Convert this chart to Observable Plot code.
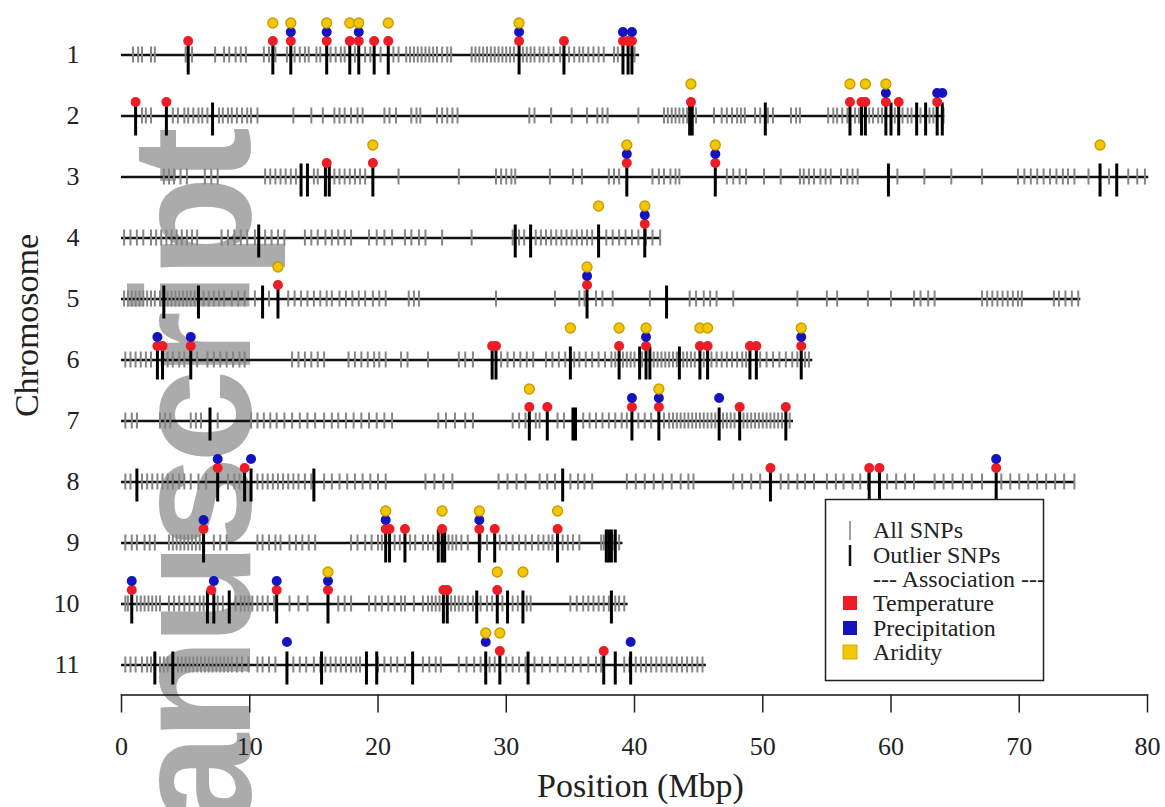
<!DOCTYPE html>
<html><head><meta charset="utf-8">
<script src="https://cdn.jsdelivr.net/npm/d3@7"></script>
<script src="https://cdn.jsdelivr.net/npm/@observablehq/plot@0.6"></script>
<style>
body{margin:0;background:#fff;}
#chart{width:1165px;height:807px;}
</style></head><body><div id="chart"></div>
<script>
const chromosomes = [1,2,3,4,5,6,7,8,9,10,11];
const chromStart = [0,0,0,0,0,0,0,0,0,0,0];
const chromEnd = [40.4, 64.2, 80.1, 42.0, 74.8, 53.9, 52.4, 74.3, 39.1, 39.5, 45.6];
const xTicks = [0,10,20,30,40,50,60,70,80];

// All SNP positions (Mbp) per chromosome
const snps1 = [0.9,1.3,1.6,2.3,2.6,5.0,5.5,7.3,8.0,8.4,8.9,9.3,9.7,11.1,11.5,12.0,12.9,13.5,13.9,14.3,14.6,15.2,15.5,16.3,16.7,17.1,17.4,18.2,19.0,19.4,20.2,21.2,21.6,22.2,22.5,22.8,23.1,23.4,23.7,24.0,24.3,24.6,25.0,25.4,25.7,27.3,27.6,27.9,28.2,28.5,28.8,29.1,29.4,29.7,30.0,30.3,30.6,31.3,31.6,31.9,32.2,32.6,32.9,33.3,33.7,34.2,34.9,35.3,35.7,36.0,36.4,36.8,37.2,37.6,38.4,38.7,40.0];
const snps2 = [1.6,1.9,2.3,4.0,4.4,4.9,5.2,5.6,6.0,6.3,6.7,7.6,7.9,8.3,8.6,9.0,9.4,9.8,10.1,10.6,13.4,14.8,15.7,16.6,17.0,17.4,17.9,18.4,18.8,20.5,20.9,21.4,22.6,23.0,23.3,24.6,25.0,25.4,25.8,26.2,31.8,32.2,33.5,35.1,36.3,37.1,37.5,37.9,40.3,42.3,42.6,42.9,43.2,43.5,43.8,44.1,44.8,46.2,46.8,47.2,47.6,48.0,48.3,48.6,49.4,49.8,50.4,50.8,52.2,52.6,52.9,55.1,55.5,55.8,56.2,56.6,57.2,57.5,58.3,58.6,59.0,59.3,60.3,60.9,61.3,61.6,62.3,63.0,63.3,64.1];
const snps3 = [3.3,3.7,4.1,4.6,5.1,6.5,7.0,7.5,11.2,11.6,12.0,12.4,12.8,13.2,13.6,15.0,15.3,16.6,17.0,17.4,17.8,18.2,18.6,19.0,21.6,26.3,29.2,29.6,30.0,30.4,30.7,33.4,35.2,35.9,38.0,38.4,38.8,41.4,41.9,42.3,42.8,43.2,43.5,47.2,47.7,48.2,48.7,50.1,51.4,52.9,53.2,53.6,54.0,54.5,54.9,55.3,56.1,56.6,57.0,57.4,60.5,62.6,64.7,67.1,69.9,70.4,70.9,71.4,71.9,72.4,72.9,73.4,73.8,74.3,75.4,77.0,78.5,79.2,79.8];
const snps4 = [0.2,0.7,1.2,1.7,2.3,2.7,3.1,3.5,3.9,4.3,4.7,5.1,5.5,5.9,7.8,8.3,8.8,9.3,9.8,10.4,11.2,11.7,12.2,12.7,14.3,14.8,15.3,15.9,16.4,16.9,17.4,17.9,19.3,19.9,20.5,21.1,22.1,22.6,23.2,23.7,25.0,27.3,30.5,31.0,31.4,32.3,32.7,33.1,33.5,33.9,34.3,34.7,35.1,35.5,35.9,36.3,36.7,37.8,38.3,38.8,39.3,39.8,40.3,40.9,41.4,42.0];
const snps5 = [0.2,0.5,0.8,1.1,1.4,1.7,2.0,2.3,2.6,3.0,3.6,3.9,4.2,4.5,4.8,5.1,5.4,5.7,6.4,6.8,7.2,7.6,8.0,8.6,9.1,9.6,10.4,11.5,13.0,13.5,14.0,14.5,15.0,15.5,16.0,16.4,17.0,17.5,18.0,18.5,19.0,19.6,20.1,20.6,22.4,22.8,23.2,29.2,33.8,35.7,36.1,37.0,37.5,38.3,41.2,44.3,44.8,45.4,45.9,46.4,47.7,52.7,55.0,55.8,58.2,60.0,61.8,62.3,62.9,63.4,67.1,67.5,67.9,68.3,68.7,69.1,69.5,69.9,70.2,72.7,73.1,73.6,74.1,74.6];
const snps6 = [0.3,0.7,1.1,1.5,1.9,2.3,3.6,4.0,4.5,4.9,5.9,6.7,7.2,7.7,8.2,8.7,9.2,9.6,13.3,13.8,14.3,14.8,15.3,15.8,17.7,18.2,18.7,19.2,19.7,20.1,20.6,21.8,22.3,23.9,26.3,26.8,27.4,29.6,30.1,30.6,31.1,31.6,32.1,33.1,33.6,34.1,34.6,35.3,35.7,36.2,36.7,37.2,37.7,38.2,38.5,39.1,39.4,39.7,40.0,40.6,41.5,41.8,42.1,42.4,42.7,43.0,43.3,43.8,44.1,44.4,44.7,45.4,46.0,46.4,46.8,47.2,47.6,48.0,48.4,48.7,49.8,50.3,50.8,51.3,51.8,52.3,52.7,53.3,53.6];
const snps7 = [0.3,0.8,1.2,3.0,3.4,3.8,5.4,5.8,6.2,7.5,10.1,10.6,11.1,11.6,12.1,12.7,13.3,13.9,14.5,15.1,15.8,16.4,16.9,17.5,18.1,18.7,19.3,19.9,20.5,21.1,24.7,25.3,26.0,26.8,27.4,30.5,31.0,31.5,32.3,32.6,34.0,34.5,36.0,36.5,37.0,37.5,38.0,38.5,39.0,39.4,40.3,40.8,41.3,42.3,42.7,43.0,43.3,43.6,43.9,44.2,44.5,44.8,45.1,45.4,45.7,46.0,46.3,46.9,47.2,47.5,47.8,48.5,48.8,49.1,49.4,49.7,50.0,50.3,50.6,50.9,51.2,51.5,52.1];
const snps8 = [0.3,0.7,1.6,2.0,2.4,2.8,3.2,3.6,4.0,4.5,4.9,5.4,6.0,6.6,8.3,8.8,9.2,10.6,11.0,11.4,11.8,12.2,12.6,13.0,13.4,13.8,14.3,14.8,15.8,16.4,17.0,17.6,18.2,18.8,19.4,20.0,20.6,23.7,24.4,25.1,25.8,29.4,30.1,30.8,31.5,32.6,33.2,33.8,35.0,35.6,36.1,36.7,39.4,40.1,40.8,41.5,42.2,42.9,43.6,44.2,44.6,47.7,48.4,49.1,49.8,51.4,52.0,52.7,53.3,54.0,55.0,55.7,56.3,57.0,57.6,58.2,59.7,60.4,61.1,61.8,63.4,64.1,64.8,65.6,66.3,67.1,68.6,69.3,70.0,70.7,71.4,72.1,72.8,73.5,74.3];
const snps9 = [0.3,0.8,1.2,1.8,2.2,2.6,3.7,4.0,4.3,4.6,4.9,5.2,5.5,5.8,6.1,7.2,7.7,8.2,10.6,11.0,11.5,12.0,12.4,13.1,13.6,14.1,14.6,15.1,17.9,18.4,19.0,19.5,20.0,20.3,21.3,21.7,22.5,22.9,23.5,23.9,24.3,25.5,25.8,26.1,26.5,27.0,28.0,28.5,29.5,30.0,30.5,31.0,31.5,32.0,32.5,32.9,33.3,33.6,34.4,34.8,35.2,35.7,37.4,37.6,38.1,38.3,38.8];
const snps10 = [0.3,0.5,1.2,1.5,1.8,2.1,2.4,2.7,3.0,3.7,4.1,4.5,4.9,5.3,5.7,6.1,6.4,7.5,7.9,8.9,9.3,9.6,9.9,10.2,10.6,11.0,11.4,11.9,13.1,13.8,14.5,16.9,17.4,17.9,19.3,19.8,20.3,20.8,21.3,21.8,22.1,22.8,23.5,23.9,24.2,24.5,24.8,25.7,26.0,26.3,26.6,27.0,27.4,28.0,28.5,28.9,29.7,30.5,30.9,31.6,31.9,35.0,35.5,36.0,36.4,36.8,37.2,37.6,38.0,38.5,38.8,39.2];
const snps11 = [0.3,0.7,1.1,1.6,2.0,2.3,3.0,3.3,3.6,4.4,4.7,5.0,5.3,5.6,5.9,6.2,6.5,6.8,7.1,7.4,7.7,8.0,8.3,8.6,9.0,9.4,9.9,10.6,11.0,11.5,12.0,13.4,13.9,14.4,15.0,15.5,15.9,16.3,16.7,17.1,17.5,17.9,18.3,18.6,20.0,20.5,21.0,21.5,22.1,23.5,24.0,24.5,24.9,26.3,26.9,27.5,28.0,28.7,29.1,30.0,30.5,31.0,31.5,32.2,32.8,33.4,34.0,34.6,35.2,35.8,36.4,37.0,37.4,39.2,39.6,40.1,40.5,40.9,41.3,41.7,42.1,42.5,42.9,43.3,43.7,44.1,44.5,44.9,45.3];

// Outlier SNP positions (Mbp) per chromosome
const outliers1 = [5.2,11.8,13.2,16.0,17.8,18.5,19.7,20.8,31.0,34.5,39.1,39.5,39.8];
const outliers2 = [1.1,3.5,7.1,44.3,44.5,50.2,56.8,57.7,58.0,59.6,60.0,60.6,62.0,62.7,63.6,64.0];
const outliers3 = [14.0,14.5,15.9,16.2,19.6,39.4,46.3,59.8,76.3,77.6];
const outliers4 = [10.7,30.7,31.9,37.2,40.8];
const outliers5 = [3.3,6.0,11.0,12.2,36.3,42.5];
const outliers6 = [2.8,3.2,5.4,28.9,29.2,35.0,38.8,40.4,40.9,41.2,43.5,45.1,45.7,49.0,49.5,53.0];
const outliers7 = [6.9,31.8,33.2,35.2,35.4,39.8,41.9,46.6,48.2,51.8];
const outliers8 = [1.2,7.5,9.6,10.1,15.0,34.4,50.6,58.3,59.1,68.2];
const outliers9 = [6.4,20.6,20.9,22.1,24.7,25.0,25.2,27.9,29.1,34.0,37.8,38.0,38.2,38.5];
const outliers10 = [0.8,6.7,7.2,8.4,12.1,16.1,25.1,25.4,27.7,29.3,30.1,31.3,38.2];
const outliers11 = [2.6,4.0,12.9,15.6,19.1,19.9,22.7,28.4,29.5,31.7,37.6,38.5,39.7];

// Associations: [chromosome, position]
const temperature = [
  [1,5.2],[1,11.8],[1,13.2],[1,16.0],[1,17.8],[1,18.5],[1,19.7],[1,20.8],[1,31.0],[1,34.5],[1,39.1],[1,39.5],[1,39.8],
  [2,1.1],[2,3.5],[2,44.4],[2,56.8],[2,57.7],[2,58.0],[2,59.6],[2,60.6],[2,63.6],
  [3,16.0],[3,19.6],[3,39.4],[3,46.3],
  [4,40.8],
  [5,12.2],[5,36.3],
  [6,2.8],[6,3.2],[6,5.4],[6,28.9],[6,29.2],[6,38.8],[6,40.9],[6,45.1],[6,45.7],[6,49.0],[6,49.5],[6,53.0],
  [7,31.8],[7,33.2],[7,39.8],[7,41.9],[7,48.2],[7,51.8],
  [8,7.5],[8,9.6],[8,50.6],[8,58.3],[8,59.1],[8,68.2],
  [9,6.4],[9,20.6],[9,20.9],[9,22.1],[9,25.0],[9,27.9],[9,29.1],[9,34.0],
  [10,0.8],[10,7.0],[10,12.1],[10,16.1],[10,25.1],[10,25.4],[10,29.3],
  [11,29.5],[11,37.6]
];
const precipitation = [
  [1,13.2],[1,16.0],[1,18.5],[1,31.0],[1,39.1],[1,39.8],
  [2,59.6],[2,63.6],[2,64.0],
  [3,39.4],[3,46.3],
  [4,40.8],
  [5,36.3],
  [6,2.8],[6,5.4],[6,40.9],[6,53.0],
  [7,39.8],[7,41.9],[7,46.6],
  [8,7.5],[8,10.1],[8,68.2],
  [9,6.4],[9,20.6],[9,27.9],
  [10,0.8],[10,7.2],[10,12.1],[10,16.1],
  [11,12.9],[11,28.4],[11,39.7]
];
const aridity = [
  [1,11.8],[1,13.2],[1,16.0],[1,17.8],[1,18.5],[1,20.8],[1,31.0],
  [2,44.4],[2,56.8],[2,58.0],[2,59.6],
  [3,19.6],[3,39.4],[3,46.3],[3,76.3],
  [4,37.2],[4,40.8],
  [5,12.2],[5,36.3],
  [6,35.0],[6,38.8],[6,40.9],[6,45.1],[6,45.7],[6,53.0],
  [7,31.8],[7,41.9],
  [9,20.6],[9,25.0],[9,27.9],[9,34.0],
  [10,16.1],[10,29.3],[10,31.3],
  [11,28.4],[11,29.5]
];

const legendLabels = ["All SNPs","Outlier SNPs","--- Association ---","Temperature","Precipitation","Aridity"];
const assocColors = {Temperature:"#ee1c25", Precipitation:"#1414bf", Aridity:"#f2c600"};
const watermarkText = "Manuscript";

// Build tables for the library
const allSnps = [snps1,snps2,snps3,snps4,snps5,snps6,snps7,snps8,snps9,snps10,snps11];
const allOutliers = [outliers1,outliers2,outliers3,outliers4,outliers5,outliers6,outliers7,outliers8,outliers9,outliers10,outliers11];
const snpRows = allSnps.flatMap((arr,i)=>arr.map(p=>({chr:chromosomes[i], pos:p})));
const outlierRows = allOutliers.flatMap((arr,i)=>arr.map(p=>({chr:chromosomes[i], pos:p})));
const chromRows = chromosomes.map((c,i)=>({chr:c, start:chromStart[i], end:chromEnd[i]}));
const toRows = arr => arr.map(([c,p])=>({chr:c, pos:p}));

const SERIF = "'Liberation Serif','Times New Roman',serif";
const bandHalf = 30.5;

function watermark() {
  const g = d3.create("svg:g");
  g.append("text")
    .attr("transform", "translate(250,134) rotate(-90)")
    .attr("text-anchor", "end")
    .attr("font-family", "'Liberation Sans',Arial,sans-serif")
    .attr("font-weight", "bold")
    .attr("font-size", 168)
    .attr("letter-spacing", -7)
    .attr("fill", "#ababab")
    .text(watermarkText);
  return g.node();
}

function legend() {
  const g = d3.create("svg:g").attr("font-family", SERIF).attr("font-size", 24)
    .attr("fill", "#222").attr("text-anchor", "start");
  g.append("rect").attr("x",825.5).attr("y",499.5).attr("width",218).attr("height",181)
    .attr("fill","white").attr("stroke","#222").attr("stroke-width",1.5);
  const ys = [530,555,579,603,628,652];
  g.append("line").attr("x1",850).attr("x2",850).attr("y1",521).attr("y2",540).attr("stroke","#808080").attr("stroke-width",1.5);
  g.append("line").attr("x1",850).attr("x2",850).attr("y1",545).attr("y2",566).attr("stroke","#111").attr("stroke-width",2.5);
  const sq = [assocColors.Temperature, assocColors.Precipitation, assocColors.Aridity];
  sq.forEach((c,i)=>{
    g.append("rect").attr("x",843).attr("y",ys[i+3]-7).attr("width",14).attr("height",14).attr("fill",c)
      .attr("stroke", i===2 ? "#d8b000" : "none");
  });
  legendLabels.forEach((t,i)=>{
    g.append("text").attr("x",873).attr("y",ys[i]).attr("dy","0.35em").text(t);
  });
  return g.node();
}

const chart = Plot.plot({
  width: 1165,
  height: 807,
  marginLeft: 121,
  marginRight: 18,
  marginTop: 23.5,
  marginBottom: 112.5,
  style: {fontFamily: SERIF, color: "#222", background: "white"},
  x: {domain: [0, 80]},
  y: {type: "band", domain: chromosomes, padding: 0, range: [23.5, 694.5]},
  marks: [
    watermark,
    Plot.ruleY(chromRows, {y: "chr", x1: "start", x2: "end", stroke: "#111", strokeWidth: 2.5}),
    Plot.tickX(snpRows, {x: "pos", y: "chr", stroke: "#858585", strokeWidth: 2,
      insetTop: bandHalf - 8, insetBottom: bandHalf - 8}),
    Plot.tickX(outlierRows, {x: "pos", y: "chr", stroke: "#000", strokeWidth: 3,
      insetTop: bandHalf - 13, insetBottom: bandHalf - 20}),
    Plot.dot(toRows(temperature), {x: "pos", y: "chr", r: 5, fill: assocColors.Temperature, dy: -14}),
    Plot.dot(toRows(precipitation), {x: "pos", y: "chr", r: 5, fill: assocColors.Precipitation, dy: -23}),
    Plot.dot(toRows(aridity), {x: "pos", y: "chr", r: 5, fill: assocColors.Aridity, stroke: "#c99a00", strokeWidth: 1.3, dy: -32}),
    Plot.frame({anchor: "bottom", stroke: "#111", strokeWidth: 1.5}),
    Plot.axisX({ticks: xTicks, tickSize: 18, tickPadding: 24, fontSize: 26, label: null, strokeWidth: 1.5}),
    Plot.axisY({tickSize: 0, tickPadding: 42, fontSize: 26, label: null}),
    Plot.text(["Position (Mbp)"], {frameAnchor: "bottom", lineAnchor: "middle", textAnchor: "middle",
      dx: 6, dy: 91, fontSize: 34, fill: "#222"}),
    Plot.text(["Chromosome"], {frameAnchor: "left", lineAnchor: "middle", textAnchor: "middle",
      dx: -94, dy: -34, rotate: -90, fontSize: 34, fill: "#222"}),
    legend
  ]
});
document.getElementById("chart").appendChild(chart);
</script>
</body></html>
